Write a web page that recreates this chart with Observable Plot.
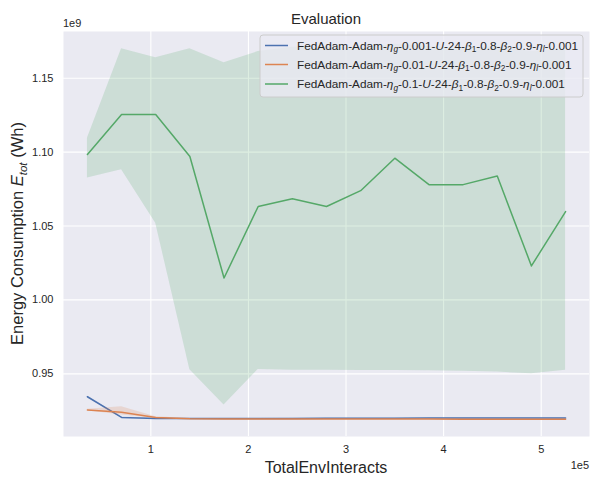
<!DOCTYPE html>
<html>
<head>
<meta charset="utf-8">
<script src="https://cdn.jsdelivr.net/npm/d3@7"></script>
<script src="https://cdn.jsdelivr.net/npm/@observablehq/plot@0.6"></script>
<style>
  html, body { margin: 0; padding: 0; background: #ffffff; }
  #chart { width: 592px; height: 477px; }
  svg { font-family: "Liberation Sans", Arial, sans-serif; }
</style>
</head>
<body>
<div id="chart"></div>
<script>
// ---- data ----
const steps = [35000, 70000, 105000, 140000, 175000, 210000, 245000, 280000, 315000, 350000, 385000, 420000, 455000, 490000, 525000];

const etaG = ["0.001", "0.01", "0.1"];
const seriesNames = etaG.map(e => `FedAdam-Adam-eta_g-${e}-U-24-beta_1-0.8-beta_2-0.9-eta_l-0.001`);
const seriesColors = ["#4C72B0", "#DD8452", "#55A868"];

const blueMean = [0.9345e9, 0.9205e9, 0.9198e9, 0.9197e9, 0.9197e9, 0.9197e9, 0.9198e9, 0.9199e9, 0.9200e9, 0.9200e9, 0.9201e9, 0.9201e9, 0.9202e9, 0.9202e9, 0.9202e9];
const blueLow  = [0.9340e9, 0.9202e9, 0.9196e9, 0.9196e9, 0.9196e9, 0.9196e9, 0.9197e9, 0.9198e9, 0.9199e9, 0.9199e9, 0.9200e9, 0.9200e9, 0.9201e9, 0.9201e9, 0.9201e9];
const blueHigh = [0.9350e9, 0.9208e9, 0.9200e9, 0.9198e9, 0.9198e9, 0.9198e9, 0.9199e9, 0.9200e9, 0.9201e9, 0.9201e9, 0.9202e9, 0.9202e9, 0.9203e9, 0.9203e9, 0.9203e9];

const orangeMean = [0.9255e9, 0.9240e9, 0.9204e9, 0.9196e9, 0.9195e9, 0.9195e9, 0.9195e9, 0.9194e9, 0.9194e9, 0.9194e9, 0.9194e9, 0.9193e9, 0.9193e9, 0.9193e9, 0.9193e9];
const orangeLow  = [0.9250e9, 0.9222e9, 0.9200e9, 0.9194e9, 0.9193e9, 0.9193e9, 0.9193e9, 0.9192e9, 0.9192e9, 0.9192e9, 0.9192e9, 0.9191e9, 0.9191e9, 0.9191e9, 0.9191e9];
const orangeHigh = [0.9260e9, 0.9277e9, 0.9210e9, 0.9198e9, 0.9197e9, 0.9197e9, 0.9197e9, 0.9196e9, 0.9196e9, 0.9196e9, 0.9196e9, 0.9195e9, 0.9195e9, 0.9195e9, 0.9195e9];

const greenMean = [1.0984e9, 1.1254e9, 1.1254e9, 1.0970e9, 1.0148e9, 1.0632e9, 1.0684e9, 1.0632e9, 1.0739e9, 1.0959e9, 1.0780e9, 1.0780e9, 1.0838e9, 1.0230e9, 1.0598e9];
const greenLow  = [1.0825e9, 1.0880e9, 1.0518e9, 0.9528e9, 0.9289e9, 0.9530e9, 0.9525e9, 0.9525e9, 0.9523e9, 0.9522e9, 0.9520e9, 0.9518e9, 0.9512e9, 0.9500e9, 0.9525e9];
const greenHigh = [1.1093e9, 1.1700e9, 1.1639e9, 1.1700e9, 1.1605e9, 1.1680e9, 1.1710e9, 1.1710e9, 1.1700e9, 1.1730e9, 1.1715e9, 1.1700e9, 1.1715e9, 1.1680e9, 1.1700e9];

const xTicks = [100000, 200000, 300000, 400000, 500000];
const xTickLabels = ["1", "2", "3", "4", "5"];
const yTicks = [0.95e9, 1.00e9, 1.05e9, 1.10e9, 1.15e9];
const yTickLabels = ["0.95", "1.00", "1.05", "1.10", "1.15"];

const titleText = "Evaluation";
const xLabelText = "TotalEnvInteracts";
const xOffsetText = "1e5";
const yOffsetText = "1e9";

// ---- table ----
const means = [blueMean, orangeMean, greenMean];
const lows = [blueLow, orangeLow, greenLow];
const highs = [blueHigh, orangeHigh, greenHigh];
const rows = [];
seriesNames.forEach((s, i) => {
  steps.forEach((x, j) => rows.push({series: s, x, y: means[i][j], lo: lows[i][j], hi: highs[i][j]}));
});

const W = 592, H = 477;
const mL = 63, mR = 3, mT = 31, mB = 41;

const plot = Plot.plot({
  width: W,
  height: H,
  marginLeft: mL,
  marginRight: mR,
  marginTop: mT,
  marginBottom: mB,
  style: {fontFamily: "Liberation Sans, Arial, sans-serif", background: "#ffffff"},
  x: {domain: [10500, 549500]},
  y: {domain: [0.9076e9, 1.1816e9]},
  color: {domain: seriesNames, range: seriesColors},
  marks: [
    Plot.frame({fill: "#EAEAF2", stroke: null}),
    Plot.gridX(xTicks, {stroke: "#ffffff", strokeOpacity: 1, strokeWidth: 1.1}),
    Plot.gridY(yTicks, {stroke: "#ffffff", strokeOpacity: 1, strokeWidth: 1.1}),
    Plot.axisX(xTicks, {tickSize: 0, tickPadding: 9, fontSize: 11, fill: "#262626", tickFormat: d => xTickLabels[xTicks.indexOf(d)], label: null}),
    Plot.axisY(yTicks, {tickSize: 0, tickPadding: 10, fontSize: 11, fill: "#262626", tickFormat: d => yTickLabels[yTicks.indexOf(d)], label: null}),
    ...seriesNames.flatMap(s => [
      Plot.line(rows.filter(r => r.series === s), {x: "x", y: "y", stroke: "series", strokeWidth: 1.5}),
      Plot.areaY(rows.filter(r => r.series === s), {x: "x", y1: "lo", y2: "hi", fill: "series", fillOpacity: 0.2})
    ])
  ]
});

document.getElementById("chart").appendChild(plot);

// ---- annotations (text) ----
const svg = d3.select(plot);
const ink = "#262626";

svg.append("text")
  .attr("x", (mL + W - mR) / 2).attr("y", 24)
  .attr("text-anchor", "middle").attr("font-size", 15).attr("fill", ink)
  .text(titleText);

svg.append("text")
  .attr("x", (mL + W - mR) / 2).attr("y", 473)
  .attr("text-anchor", "middle").attr("font-size", 16).attr("fill", ink)
  .text(xLabelText);

svg.append("text")
  .attr("x", W - mR).attr("y", 469)
  .attr("text-anchor", "end").attr("font-size", 11).attr("fill", ink)
  .text(xOffsetText);

svg.append("text")
  .attr("x", mL).attr("y", 26.5)
  .attr("text-anchor", "start").attr("font-size", 11).attr("fill", ink)
  .text(yOffsetText);

// y label with italic E and subscript
const yl = svg.append("text")
  .attr("transform", `translate(23, ${(mT + H - mB) / 2}) rotate(-90)`)
  .attr("text-anchor", "middle").attr("font-size", 16.5).attr("fill", ink);
yl.append("tspan").text("Energy Consumption ");
yl.append("tspan").attr("font-style", "italic").text("E");
yl.append("tspan").attr("font-style", "italic").attr("font-size", 11.5).attr("dy", 3.5).text("tot");
yl.append("tspan").attr("dy", -3.5).text(" (Wh)");

// legend
const lg = svg.append("g").attr("text-anchor", "start");
lg.append("rect")
  .attr("x", 260).attr("y", 35).attr("width", 323).attr("height", 62)
  .attr("rx", 3).attr("fill", "#EAEAF2").attr("fill-opacity", 0.8)
  .attr("stroke", "#CCCCCC").attr("stroke-width", 1);

const rowY = [45.5, 64.5, 84];
const lfs = 11.8, sfs = 8.3, sdy = 2.8;
etaG.forEach((e, i) => {
  lg.append("line")
    .attr("x1", 265).attr("x2", 288).attr("y1", rowY[i]).attr("y2", rowY[i])
    .attr("stroke", seriesColors[i]).attr("stroke-width", 1.5);
  const t = lg.append("text").attr("x", 297).attr("y", rowY[i] + 4)
    .attr("text-anchor", "start").attr("font-size", lfs).attr("fill", ink);
  const parts = [
    ["FedAdam-Adam-", 0, 0], ["η", 1, 0], ["g", 1, 1], [`-${e}-`, 0, 0], ["U", 1, 0], ["-24-", 0, 0],
    ["β", 1, 0], ["1", 0, 1], ["-0.8-", 0, 0], ["β", 1, 0], ["2", 0, 1], ["-0.9-", 0, 0],
    ["η", 1, 0], ["l", 1, 1], ["-0.001", 0, 0]
  ];
  let sub = false;
  parts.forEach(([txt, it, sb]) => {
    const ts = t.append("tspan").text(txt);
    if (it) ts.attr("font-style", "italic");
    if (sb && !sub) { ts.attr("dy", sdy).attr("font-size", sfs); sub = true; }
    else if (sb && sub) { ts.attr("font-size", sfs); }
    else if (!sb && sub) { ts.attr("dy", -sdy); sub = false; }
  });
});
</script>
</body>
</html>
